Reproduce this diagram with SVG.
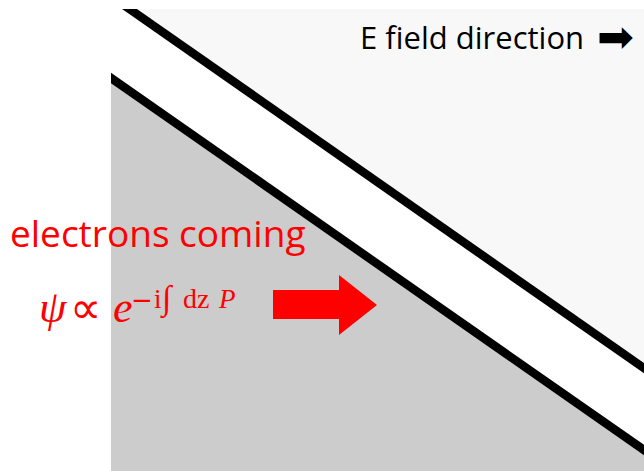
<svg xmlns="http://www.w3.org/2000/svg" width="644" height="471" viewBox="0 0 644 471">
  <defs>
    <clipPath id="clip">
      <rect x="111" y="9" width="533" height="462"/>
    </clipPath>
    <style>
      .bar { stroke: #000; stroke-width: 8.5; fill: none; }
      .red { fill: #ff0000; }
      .sans { font-family: "Open Sans", "Noto Sans", sans-serif; }
      .math { font-family: "Liberation Serif", "DejaVu Serif", serif; }
    </style>
  </defs>
  <rect x="0" y="0" width="644" height="471" fill="#ffffff"/>
  <g id="regions">
    <polygon id="upper-region" points="129.5,9 644,9 644,368" fill="#f8f8f8"/>
    <polygon id="lower-region" points="111,78 644,450 644,471 111,471" fill="#cccccc"/>
  </g>
  <g id="boundaries" clip-path="url(#clip)">
    <line class="bar" x1="100" y1="-11.6" x2="660" y2="379.3"/>
    <line class="bar" x1="95" y1="66.8" x2="660" y2="461.2"/>
  </g>
  <g id="efield-label">
    <text class="sans" x="360" y="49" font-size="31" fill="#000">E field direction <tspan x="597" y="52" font-family="DejaVu Sans, sans-serif" font-size="44">➡</tspan></text>
  </g>
  <g id="electrons-label">
    <text class="sans red" x="10" y="247" font-size="37">electrons coming</text>
  </g>
  <g id="formula" class="red">
    <text class="math" x="39" y="322" font-size="44" font-style="italic">ψ</text>
    <text x="70" y="323" font-size="44" font-family="DejaVu Sans, sans-serif">∝</text>
    <text class="math" x="113" y="322" font-size="44" font-style="italic">e</text>
    <text x="131" y="309" font-size="26" font-family="DejaVu Sans, sans-serif">−</text>
    <text class="math" x="154" y="308" font-size="27">i</text>
    <text class="math" x="162" y="309" font-size="34">∫</text>
    <text class="math" x="183" y="308" font-size="28">dz</text>
    <text class="math" x="219" y="308" font-size="27" font-style="italic">P</text>
  </g>
  <g id="electron-arrow">
    <polygon class="red" points="273,290 339,290 339,275 377,305 339,335 339,319 273,319"/>
  </g>
</svg>
